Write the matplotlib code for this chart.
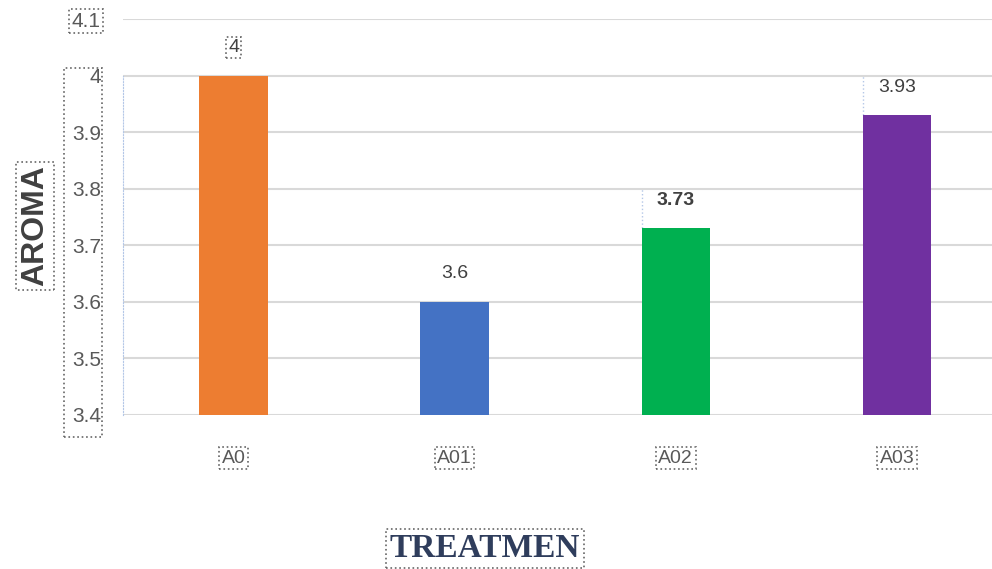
import matplotlib.pyplot as plt
from matplotlib.patches import Rectangle

treatments = ['A0', 'A01', 'A02', 'A03']
aroma = [4.0, 3.6, 3.73, 3.93]
value_labels = ['4', '3.6', '3.73', '3.93']
bar_colors = ['#ED7D31', '#4472C4', '#00B050', '#7030A0']
yticks = [3.4, 3.5, 3.6, 3.7, 3.8, 3.9, 4.0, 4.1]
ytick_labels = ['3.4', '3.5', '3.6', '3.7', '3.8', '3.9', '4', '4.1']

plt.rcParams['font.family'] = ['Liberation Sans', 'DejaVu Sans']

fig = plt.figure(figsize=(9.92, 5.69), dpi=100)
ax = fig.add_axes([0.124, 0.2707, 0.876, 0.6959])

x = list(range(len(treatments)))
bar_w = 0.31
ax.bar(x, aroma, width=bar_w, color=bar_colors, zorder=3)

ax.set_ylim(3.4, 4.1)
ax.set_xlim(-0.5, 3.43)
ax.set_yticks(yticks)
ax.set_yticklabels(ytick_labels, fontsize=15, color='#595959')
ax.set_xticks(x)
ax.set_xticklabels(treatments, fontsize=14, color='#595959')
ax.tick_params(axis='y', length=0, pad=16)
ax.tick_params(axis='x', length=0, pad=25)
ax.grid(axis='y', color='#d9d9d9', linewidth=1.5, zorder=0)

for s in ['top', 'right', 'bottom']:
    ax.spines[s].set_visible(False)
ax.spines['left'].set_bounds(3.4, 4.0)
ax.spines['left'].set_color('#b4c7e7')
ax.spines['left'].set_linestyle(':')

# dotted selection boxes around text
dotbox = dict(boxstyle='square,pad=0.12', fc='none', ec='#666666', ls=':', lw=1.2)
for lbl in ax.get_xticklabels():
    lbl.set_bbox(dotbox)
ax.get_yticklabels()[-1].set_bbox(dotbox)
fig.patches.append(Rectangle((64 / 992, 1 - 437 / 569), 38 / 992, 369 / 569,
                             transform=fig.transFigure, fill=False,
                             ec='#666666', ls=':', lw=1.2))

for i, (v, t) in enumerate(zip(aroma, value_labels)):
    weight = 'bold' if t == '3.73' else 'normal'
    txt = ax.annotate(t, (i, v), xytext=(0, 14), textcoords='offset points',
                      ha='center', va='bottom', fontsize=14, color='#404040',
                      fontweight=weight)
    if i == 0:
        txt.set_bbox(dotbox)

# leader lines from data labels to bar corners
for i in (2, 3):
    ax.plot([i - bar_w / 2] * 2, [aroma[i], aroma[i] + 0.07],
            ls=':', color='#b4c7e7', lw=1, zorder=2)

fig.text(35 / 992, 1 - 226 / 569, 'AROMA', rotation=90, ha='center', va='center',
         fontsize=23, fontweight='bold', color='#404040', bbox=dotbox)
fig.text(485 / 992, 1 - 564 / 569, 'TREATMEN', ha='center', va='bottom',
         fontsize=24, fontweight='bold', color='#2F3D5C',
         family=['Liberation Serif', 'DejaVu Serif'], bbox=dotbox)

fig.savefig('out.png', dpi=100)
